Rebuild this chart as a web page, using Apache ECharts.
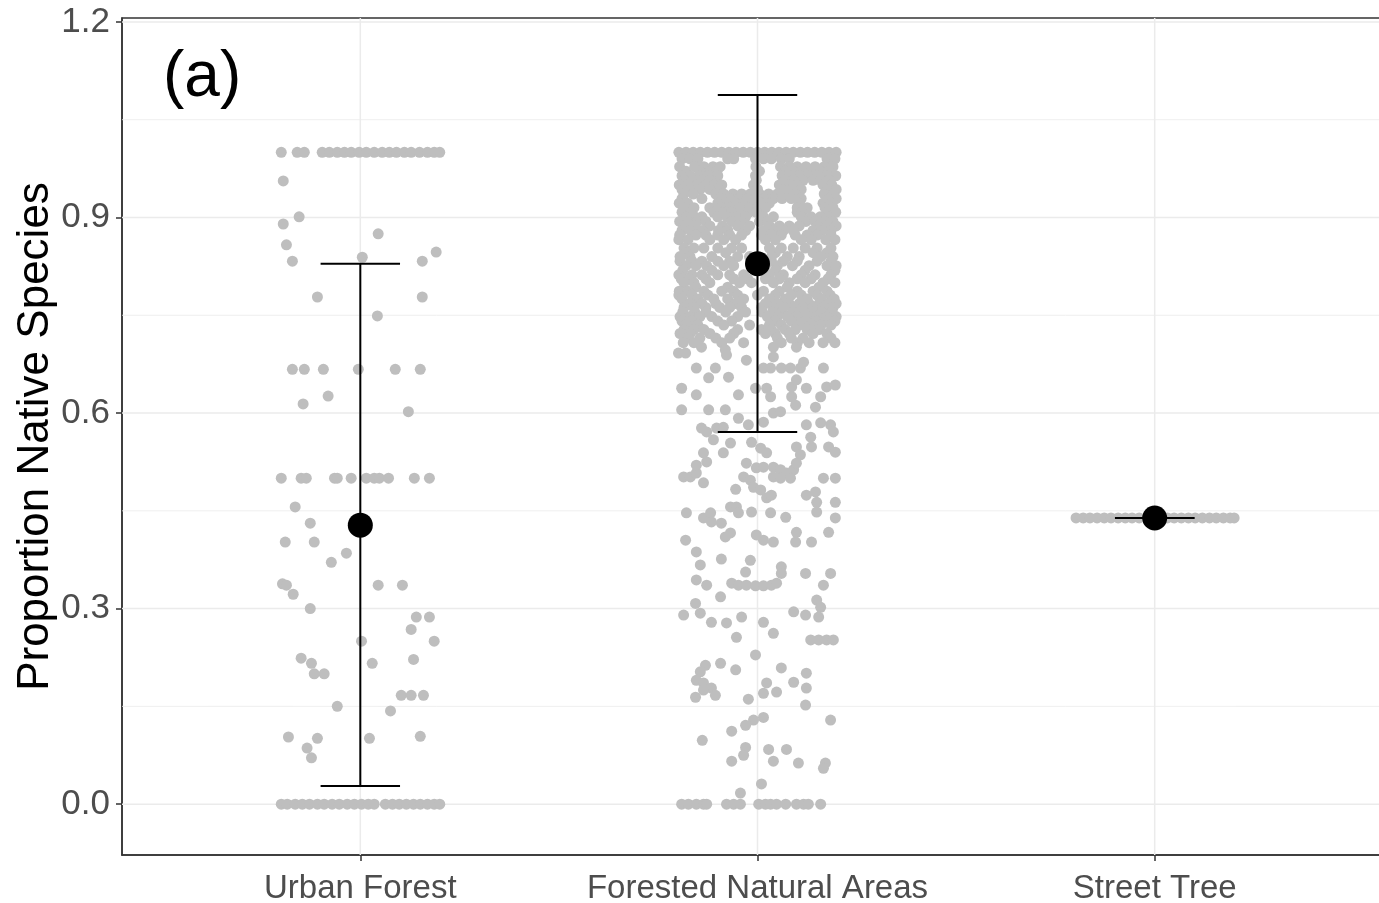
<!DOCTYPE html>
<html><head><meta charset="utf-8">
<script src="https://cdn.jsdelivr.net/npm/echarts@6/dist/echarts.min.js"></script>
<style>html,body{margin:0;padding:0;background:#fff;overflow:hidden}#chart{width:1379px;height:903px}</style>
</head><body><div id="chart"></div>
<script>
// ---------- data ----------
const categories = ['Urban Forest', 'Forested Natural Areas', 'Street Tree'];
const yTicks = [0, 0.3, 0.6, 0.9, 1.2];
const yMinorGrid = [0.15, 0.45, 0.75, 1.05];
const means = [0.428, 0.829, 0.439];
const lowerCI = [0.028, 0.571, 0.439];
const upperCI = [0.829, 1.088, 0.439];

// jittered observations: [horizontal jitter offset, proportion]
const urbanPoints = [
  [-0.199,1],[-0.159,1],[-0.141,1],[-0.096,1],[-0.078,1],[-0.058,1],[-0.040,1],[-0.023,1],[-0.003,1],[0.015,1],[0.035,1],[0.055,1],[0.073,1],[0.091,1],[0.111,1],[0.128,1],[0.149,1],[0.169,1],[0.186,1],[0.2,1],
  [-0.194,0.956],[-0.194,0.890],[-0.154,0.901],[0.045,0.875],[-0.186,0.858],[-0.171,0.833],[0.005,0.839],[0.191,0.847],[0.156,0.833],
  [-0.108,0.778],[0.156,0.778],[0.043,0.749],
  [-0.171,0.667],[-0.141,0.667],[-0.093,0.667],[-0.005,0.667],[0.088,0.667],[0.151,0.667],
  [-0.144,0.614],[-0.081,0.626],[0.121,0.602],
  [-0.199,0.5],[-0.149,0.5],[-0.136,0.5],[-0.065,0.5],[-0.058,0.5],[-0.023,0.5],[0.015,0.5],[0.035,0.5],[0.048,0.5],[0.071,0.5],[0.136,0.5],[0.174,0.5],
  [-0.164,0.456],[-0.126,0.431],[-0.189,0.402],[-0.116,0.402],[-0.035,0.385],[-0.073,0.371],
  [-0.196,0.338],[-0.186,0.336],[-0.169,0.322],[0.045,0.336],[0.106,0.336],
  [-0.126,0.300],[0.141,0.287],[0.174,0.287],[0.128,0.268],[0.186,0.250],[0.003,0.250],
  [0.134,0.222],[0.030,0.216],[-0.149,0.224],[-0.123,0.216],[-0.116,0.200],[-0.091,0.200],
  [0.103,0.167],[0.128,0.167],[0.159,0.167],[-0.058,0.150],[0.076,0.143],
  [-0.181,0.103],[-0.108,0.101],[0.023,0.101],[0.151,0.104],[-0.134,0.086],[-0.123,0.071],
  [-0.199,0],[-0.184,0],[-0.164,0],[-0.146,0],[-0.128,0],[-0.108,0],[-0.091,0],[-0.071,0],[-0.053,0],[-0.033,0],[-0.015,0],[0.003,0],[0.020,0],[0.035,0],
  [0.063,0],[0.081,0],[0.098,0],[0.116,0],[0.134,0],[0.151,0],[0.169,0],[0.186,0],[0.2,0]
];

// dense upper part of Forested Natural Areas: [proportion, [jitter offsets]]
const forestedRows = [
  [1.000, [-0.198,-0.18,-0.162,-0.144,-0.126,-0.108,-0.09,-0.072,-0.054,-0.036,-0.018,0,0.018,0.036,0.054,0.072,0.09,0.108,0.126,0.144,0.162,0.18,0.198]],
  [0.990, [-0.19,-0.17,-0.15,-0.075,-0.06,-0.005,0.015,0.035,0.06,0.08,0.175,0.195]],
  [0.978, [-0.196,-0.158,-0.135,-0.112,-0.094,-0.004,0.058,0.08,0.1,0.122,0.145,0.168,0.19]],
  [0.971, [-0.18,-0.146,-0.12,-0.102,0.005,0.07,0.09,0.112,0.135,0.158,0.18]],
  [0.964, [-0.19,-0.17,-0.147,-0.125,-0.1,-0.005,0.062,0.085,0.108,0.13,0.152,0.175,0.197]],
  [0.957, [-0.185,-0.162,-0.14,-0.118,-0.003,0.068,0.09,0.115,0.14,0.16,0.18]],
  [0.950, [-0.197,-0.175,-0.152,-0.13,-0.108,-0.09,-0.01,0.055,0.075,0.098,0.165,0.187]],
  [0.943, [-0.19,-0.168,-0.145,-0.12,-0.095,0.0,0.06,0.085,0.11,0.177,0.198]],
  [0.936, [-0.185,-0.162,-0.105,-0.085,-0.062,-0.04,-0.018,0.005,0.028,0.05,0.072,0.095,0.168,0.192]],
  [0.929, [-0.19,-0.14,-0.095,-0.07,-0.045,-0.025,-0.005,0.018,0.04,0.062,0.085,0.11,0.18,0.198]],
  [0.922, [-0.197,-0.176,-0.1,-0.078,-0.056,-0.034,-0.012,0.01,0.03,0.105,0.165,0.188]],
  [0.915, [-0.186,-0.16,-0.12,-0.09,-0.067,-0.045,-0.02,0.0,0.02,0.1,0.125,0.17,0.19]],
  [0.908, [-0.19,-0.168,-0.11,-0.088,-0.066,-0.044,-0.022,-0.002,0.1,0.112,0.175,0.197]],
  [0.901, [-0.18,-0.158,-0.14,-0.1,-0.077,-0.055,-0.03,0.015,0.04,0.11,0.135,0.158,0.18]],
  [0.894, [-0.196,-0.174,-0.152,-0.13,-0.065,-0.042,0.005,0.025,0.122,0.145,0.168,0.19]],
  [0.887, [-0.185,-0.16,-0.12,-0.088,-0.05,-0.02,0.03,0.055,0.08,0.105,0.152,0.175,0.198]],
  [0.880, [-0.19,-0.168,-0.14,-0.098,-0.075,-0.03,0.015,0.04,0.065,0.09,0.14,0.162,0.185]],
  [0.873, [-0.196,-0.155,-0.13,-0.1,-0.07,-0.04,0.01,0.035,0.06,0.095,0.125,0.15,0.185]],
  [0.866, [-0.198,-0.175,-0.12,-0.085,-0.055,0.02,0.045,0.11,0.135,0.172,0.195]],
  [0.853, [-0.185,-0.16,-0.135,-0.1,-0.065,-0.04,0.03,0.06,0.09,0.12,0.15,0.185]],
  [0.846, [-0.18,-0.08,0.045,0.14,0.175]],
  [0.840, [-0.195,-0.17,-0.115,-0.05,-0.02,0.035,0.075,0.105,0.16,0.19]],
  [0.833, [-0.195,-0.165,-0.14,-0.1,-0.07,0.035,0.065,0.1,0.15,0.185]],
  [0.826, [-0.18,-0.155,-0.128,-0.085,-0.06,0.02,0.05,0.088,0.13,0.175,0.198]],
  [0.819, [-0.188,-0.115,0.045,0.12,0.195]],
  [0.812, [-0.198,-0.165,-0.14,-0.1,-0.07,-0.035,0.03,0.065,0.11,0.145,0.185]],
  [0.806, [-0.192,-0.172,-0.13,-0.06,-0.025,0.02,0.055,0.1,0.135,0.178]],
  [0.800, [-0.185,-0.16,-0.12,-0.045,-0.015,0.04,0.08,0.12,0.165,0.195]],
  [0.793, [-0.155,-0.075,0.075,0.155]],
  [0.787, [-0.197,-0.175,-0.135,-0.09,-0.06,0.015,0.055,0.1,0.14,0.175]],
  [0.781, [-0.198,-0.165,-0.125,-0.05,0.0,0.045,0.085,0.11,0.15,0.183]],
  [0.775, [-0.19,-0.15,-0.11,-0.075,-0.035,0.03,0.07,0.125,0.16,0.193]],
  [0.768, [-0.17,-0.14,-0.105,-0.055,0.02,0.05,0.08,0.105,0.13,0.155,0.18,0.198]],
  [0.762, [-0.185,-0.16,-0.13,-0.095,-0.07,-0.04,0.01,0.04,0.065,0.09,0.115,0.14,0.165,0.19]],
  [0.755, [-0.188,-0.158,-0.13,-0.08,-0.03,0.012,0.038,0.062,0.088,0.112,0.138,0.162,0.188]],
  [0.748, [-0.195,-0.17,-0.145,-0.115,-0.05,0.025,0.05,0.075,0.1,0.125,0.15,0.175,0.198]],
  [0.741, [-0.19,-0.165,-0.1,-0.065,0.045,0.085,0.12,0.148,0.172,0.195]],
  [0.735, [-0.18,-0.15,-0.085,-0.02,0.03,0.06,0.105,0.135,0.16,0.185]],
  [0.728, [-0.185,-0.16,-0.135,-0.05,0.01,0.035,0.07,0.095,0.125,0.155]],
  [0.722, [-0.195,-0.17,-0.12,-0.06,0.02,0.045,0.08,0.14,0.175]],
  [0.715, [-0.175,-0.145,-0.105,-0.07,0.05,0.085,0.115,0.185]],
  [0.708, [-0.187,-0.16,-0.09,-0.035,0.06,0.1,0.13,0.165,0.195]]
];

// sparser lower part of Forested Natural Areas: [jitter offset, proportion]
const forestedPoints = [
  [-0.199,0.692],[-0.181,0.692],[-0.141,0.701],[-0.081,0.697],[-0.078,0.689],[-0.028,0.681],[0.040,0.701],[0.040,0.686],[0.098,0.701],
  [-0.154,0.669],[-0.106,0.669],[-0.123,0.654],[-0.073,0.655],[0.015,0.669],[0.033,0.669],[0.060,0.669],[0.083,0.669],[0.108,0.669],[0.116,0.678],[0.166,0.669],
  [-0.191,0.638],[-0.154,0.628],[-0.048,0.628],[-0.005,0.638],[0.023,0.638],[0.033,0.625],[0.086,0.625],[0.096,0.612],[0.086,0.640],[0.098,0.651],[0.123,0.638],[0.174,0.640],[0.196,0.643],[0.159,0.625],[0.146,0.609],
  [-0.191,0.605],[-0.123,0.605],[-0.081,0.605],[-0.048,0.592],[-0.023,0.582],[0.040,0.600],[0.058,0.602],[0.015,0.586],[0.123,0.582],[0.159,0.585],[0.184,0.582],[0.191,0.571],
  [-0.141,0.577],[-0.128,0.571],[-0.103,0.577],[-0.086,0.578],[-0.111,0.559],[-0.068,0.554],[-0.015,0.555],[0.008,0.546],[0.023,0.539],[0.098,0.548],[0.108,0.536],[0.134,0.563],[0.136,0.548],[0.179,0.548],[0.196,0.540],[-0.136,0.539],[-0.086,0.539],
  [-0.186,0.502],[-0.169,0.502],[-0.154,0.508],[-0.136,0.493],[-0.154,0.520],[-0.128,0.525],[-0.028,0.523],[-0.003,0.516],[0.015,0.517],[0.040,0.517],[0.058,0.513],[0.073,0.508],[0.091,0.513],[0.098,0.523],
  [-0.035,0.502],[-0.018,0.497],[-0.010,0.486],[0.008,0.482],[0.040,0.502],[0.058,0.500],[0.083,0.500],[-0.055,0.483],[0.166,0.500],[0.196,0.500],
  [0.023,0.470],[0.035,0.474],[0.123,0.474],[0.146,0.479],[0.149,0.463],[0.149,0.448],[0.196,0.463],
  [-0.068,0.456],[-0.053,0.456],[-0.048,0.447],[-0.015,0.448],[0.033,0.447],[0.071,0.440],[-0.179,0.447],[-0.136,0.439],[-0.118,0.447],[-0.116,0.433],[-0.091,0.431],[0.196,0.439],
  [-0.068,0.416],[-0.081,0.410],[-0.003,0.413],[0.015,0.405],[0.040,0.402],[0.098,0.417],[0.096,0.402],[0.136,0.402],[0.179,0.417],[-0.181,0.405],
  [-0.154,0.387],[-0.144,0.367],[-0.091,0.376],[-0.018,0.374],[-0.030,0.356],[0.060,0.364],[0.060,0.354],[0.121,0.354],[0.184,0.354],[0.166,0.336],
  [-0.154,0.344],[-0.128,0.336],[-0.065,0.339],[-0.048,0.336],[-0.028,0.336],[-0.005,0.335],[0.015,0.335],[0.035,0.336],[0.048,0.339],
  [-0.093,0.318],[-0.156,0.308],[-0.144,0.293],[-0.186,0.290],[-0.116,0.279],[-0.078,0.278],[-0.040,0.287],[0.015,0.279],[0.040,0.262],[0.091,0.295],[0.121,0.290],[0.149,0.313],[0.159,0.302],[0.154,0.287],
  [-0.053,0.256],[0.134,0.252],[0.154,0.252],[0.174,0.252],[0.191,0.252],
  [-0.005,0.229],[-0.131,0.213],[-0.093,0.216],[-0.144,0.203],[-0.154,0.190],[-0.136,0.186],[-0.116,0.178],[-0.106,0.167],[-0.156,0.164],[-0.136,0.175],
  [-0.055,0.206],[0.060,0.209],[0.091,0.187],[0.123,0.201],[0.123,0.178],[0.023,0.186],[0.015,0.170],[0.048,0.172],[-0.023,0.161],[0.121,0.152],
  [0.015,0.133],[-0.010,0.129],[-0.030,0.121],[0.184,0.129],[-0.065,0.112],[-0.139,0.098],
  [-0.030,0.087],[-0.035,0.075],[-0.065,0.066],[0.028,0.084],[0.040,0.066],[0.073,0.084],[0.103,0.063],[0.171,0.063],[0.166,0.055],[0.010,0.031],[-0.043,0.017],
  [-0.191,0],[-0.174,0],[-0.154,0],[-0.136,0],[-0.128,0],[-0.078,0],[-0.060,0],[-0.043,0],[0.003,0],[0.020,0],[0.033,0],[0.048,0],[0.071,0],[0.098,0],[0.116,0],[0.128,0],[0.159,0]
];

const streetOffsets = [-0.198,-0.18,-0.163,-0.145,-0.127,-0.11,-0.092,-0.074,-0.057,-0.039,-0.021,-0.004,0.014,0.032,0.049,0.067,0.085,0.102,0.12,0.138,0.155,0.173,0.19,0.2];
const streetValue = 0.439;

// ---------- build series data ----------
const jitterData = [];
urbanPoints.forEach(p => jitterData.push([1 + p[0], p[1]]));
forestedRows.forEach(r => r[1].forEach(o => jitterData.push([2 + o, r[0]])));
forestedPoints.forEach(p => jitterData.push([2 + p[0], p[1]]));
streetOffsets.forEach(o => jitterData.push([3 + o, streetValue]));

const errData = categories.map((c, i) => [i + 1, lowerCI[i], upperCI[i]]);
const meanData = categories.map((c, i) => [i + 1, means[i]]);

const X_MIN = 0.4, X_MAX = 3.6, Y_MIN = -0.078, Y_MAX = 1.206;
const FONT = '"Liberation Sans", Arial, sans-serif';

function hLines(values, width) {
  return {
    type: 'custom', z: 1, silent: true, clip: true,
    data: values.map(v => [v]),
    renderItem: (params, api) => {
      const v = api.value(0);
      const a = api.coord([X_MIN, v]), b = api.coord([X_MAX, v]);
      return { type: 'line', shape: { x1: a[0], y1: a[1], x2: b[0], y2: b[1] },
        style: { stroke: '#EBEBEB', lineWidth: width } };
    }
  };
}
function vLines(values, width) {
  return {
    type: 'custom', z: 1, silent: true, clip: true,
    data: values.map(v => [v]),
    renderItem: (params, api) => {
      const v = api.value(0);
      const a = api.coord([v, Y_MIN]), b = api.coord([v, Y_MAX]);
      return { type: 'line', shape: { x1: a[0], y1: a[1], x2: b[0], y2: b[1] },
        style: { stroke: '#EBEBEB', lineWidth: width } };
    }
  };
}

const chart = echarts.init(document.getElementById('chart'), null, { renderer: 'canvas' });
chart.setOption({
  animation: false,
  backgroundColor: '#fff',
  textStyle: { fontFamily: FONT },
  title: {
    text: '(a)', left: 163, top: 46, padding: 0,
    textStyle: { fontSize: 64, fontWeight: 'normal', color: '#000', fontFamily: FONT }
  },
  grid: {
    left: 122, top: 18, bottom: 48, right: -14,
    show: true, borderColor: '#333', borderWidth: 1.5,
    outerBoundsMode: 'none', containLabel: false
  },
  xAxis: {
    type: 'value', min: X_MIN, max: X_MAX,
    axisLine: { show: true, onZero: false, lineStyle: { color: '#333', width: 1.5 } },
    axisTick: { show: true, customValues: [1, 2, 3], length: 6, lineStyle: { color: '#333', width: 1.5 } },
    axisLabel: { customValues: [1, 2, 3], formatter: v => categories[Math.round(v) - 1],
      color: '#4D4D4D', fontSize: 33, margin: 17, fontFamily: FONT },
    splitLine: { show: false }
  },
  yAxis: {
    type: 'value', min: Y_MIN, max: Y_MAX,
    name: 'Proportion Native Species', nameLocation: 'middle', nameGap: 64,
    nameMoveOverlap: false,
    nameTextStyle: { fontSize: 44, color: '#000', fontFamily: FONT },
    axisLine: { show: true, onZero: false, lineStyle: { color: '#333', width: 1.5 } },
    axisTick: { show: true, customValues: yTicks, length: 6, lineStyle: { color: '#333', width: 1.5 } },
    axisLabel: { customValues: yTicks, formatter: v => v.toFixed(1),
      color: '#4D4D4D', fontSize: 35, margin: 12, fontFamily: FONT },
    splitLine: { show: false }
  },
  series: [
    hLines(yMinorGrid, 0.8),
    hLines(yTicks, 1.5),
    vLines([1, 2, 3], 1.5),
    {
      type: 'scatter', z: 2, silent: true,
      data: jitterData, symbol: 'circle', symbolSize: 11,
      itemStyle: { color: '#BEBEBE', opacity: 1 }
    },
    {
      type: 'custom', z: 3, silent: true,
      data: errData,
      renderItem: (params, api) => {
        const x = api.value(0), lo = api.value(1), hi = api.value(2);
        const t = api.coord([x, hi]), b = api.coord([x, lo]);
        const tl = api.coord([x - 0.1, hi]), tr = api.coord([x + 0.1, hi]);
        const bl = api.coord([x - 0.1, lo]), br = api.coord([x + 0.1, lo]);
        const st = { stroke: '#000', lineWidth: 2 };
        return { type: 'group', children: [
          { type: 'line', shape: { x1: t[0], y1: t[1], x2: b[0], y2: b[1] }, style: st },
          { type: 'line', shape: { x1: tl[0], y1: tl[1], x2: tr[0], y2: tr[1] }, style: st },
          { type: 'line', shape: { x1: bl[0], y1: bl[1], x2: br[0], y2: br[1] }, style: st }
        ] };
      }
    },
    {
      type: 'scatter', z: 4, silent: true,
      data: meanData, symbol: 'circle', symbolSize: 25,
      itemStyle: { color: '#000', opacity: 1 }
    }
  ]
});
</script>
</body></html>
